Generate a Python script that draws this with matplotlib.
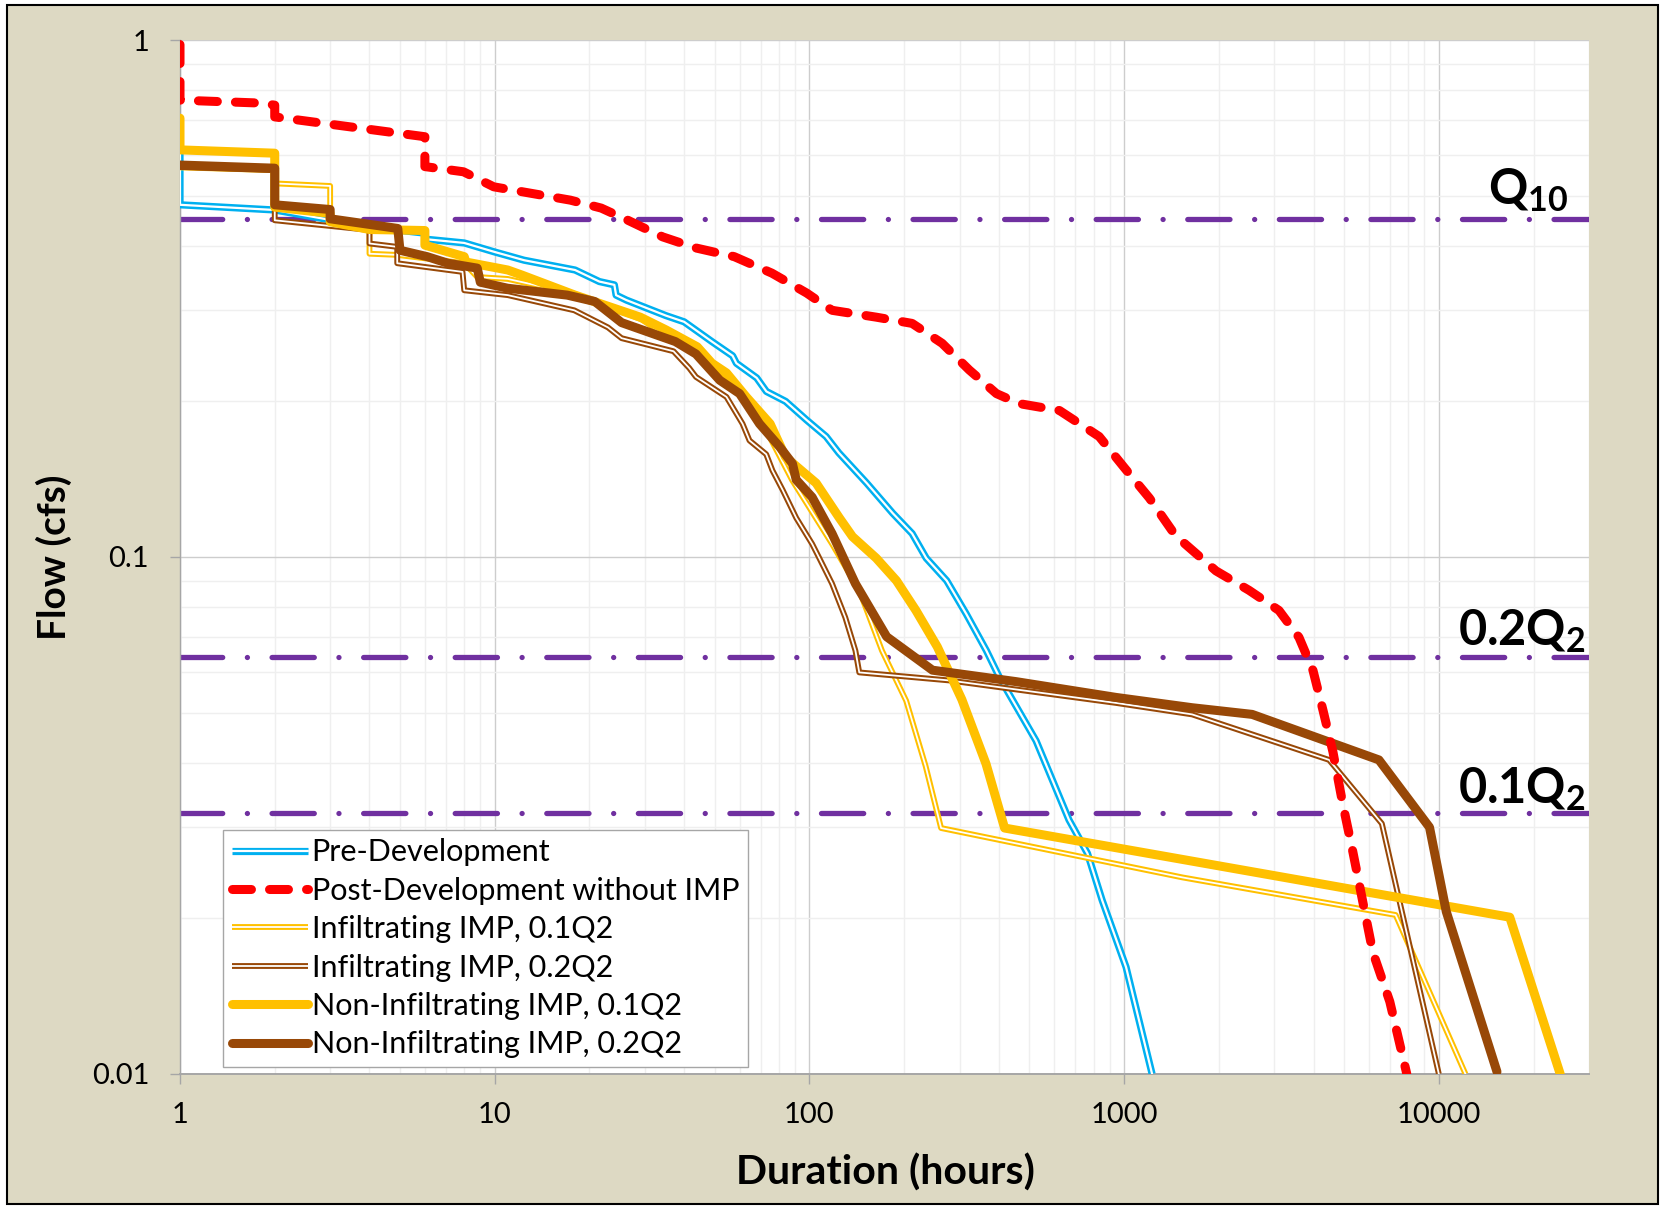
import matplotlib
matplotlib.use("Agg")
import matplotlib.pyplot as plt
import matplotlib.patheffects as pe
from matplotlib.patches import Rectangle
from matplotlib.ticker import FixedLocator, LogLocator, NullFormatter

plt.rcParams['font.family'] = ['Lato', 'DejaVu Sans']
plt.rcParams['mathtext.fontset'] = 'custom'
plt.rcParams['mathtext.rm'] = 'Lato'
plt.rcParams['mathtext.bf'] = 'Lato:bold'

# flow duration data (hours, cfs)
pre_hours = [1, 1, 2, 4, 6, 6, 8, 10, 12.4, 18, 21.5, 24, 24.3, 26.2, 35, 40, 49, 57,
             58.6, 68, 73, 84, 98, 113, 124, 152, 184, 212, 235, 273, 315, 365, 401,
             525, 668, 765, 851, 1014, 1227]
pre_flow = [0.655, 0.48, 0.469, 0.435, 0.423, 0.412, 0.405, 0.389, 0.375, 0.359, 0.341,
            0.336, 0.321, 0.314, 0.293, 0.285, 0.261, 0.245, 0.237, 0.222, 0.209, 0.200,
            0.184, 0.171, 0.159, 0.139, 0.1215, 0.111, 0.0995, 0.090, 0.0776, 0.0659,
            0.0586, 0.0441, 0.031, 0.0267, 0.0217, 0.0161, 0.0100]

post_hours = [1, 1, 1.81, 2, 2, 6, 6, 7.96, 9.93, 13.1, 17.4, 21.8, 26.5, 34.2, 43.6,
              57.7, 76, 98, 118, 163, 212, 264, 322, 393, 464, 623, 833, 1000, 1203,
              1456, 1958, 2494, 3105, 3594, 3983, 4285, 4607, 4955, 5330, 5735, 6170,
              6985, 7910]
post_flow = [0.98, 0.765, 0.755, 0.748, 0.71, 0.650, 0.569, 0.556, 0.520, 0.505, 0.490,
             0.473, 0.448, 0.416, 0.396, 0.381, 0.354, 0.324, 0.300, 0.291, 0.283, 0.259,
             0.230, 0.207, 0.198, 0.192, 0.171, 0.149, 0.130, 0.110, 0.094, 0.0862,
             0.0788, 0.0699, 0.0603, 0.0505, 0.042, 0.0332, 0.0269, 0.0215, 0.0172,
             0.0138, 0.0100]

inf1_hours = [1, 2, 2, 3, 3, 4, 4, 4.9, 8, 8.8, 11, 17.9, 29.3, 35, 44, 50, 55, 62, 75,
              88, 98, 118, 144, 170, 203, 234, 262, 1530, 7290, 12150]
inf1_flow = [0.567, 0.560, 0.528, 0.522, 0.445, 0.432, 0.386, 0.384, 0.370, 0.348, 0.345,
             0.323, 0.288, 0.268, 0.250, 0.233, 0.222, 0.200, 0.170, 0.141, 0.127, 0.106,
             0.0862, 0.0659, 0.0527, 0.0394, 0.0299, 0.0240, 0.0203, 0.0100]

inf2_hours = [1, 2, 2, 4, 4, 4.9, 4.9, 7.9, 8, 11, 17.9, 22.9, 25.3, 37, 41.5, 43.6, 54.5,
              61.3, 64.5, 72.9, 76.3, 82.1, 90.8, 102, 107.5, 118, 130, 140, 144, 278,
              942, 1644, 4480, 6590, 10000]
inf2_flow = [0.568, 0.560, 0.448, 0.429, 0.404, 0.398, 0.370, 0.356, 0.328, 0.321, 0.300,
             0.278, 0.265, 0.250, 0.232, 0.223, 0.204, 0.181, 0.168, 0.158, 0.147, 0.135,
             0.119, 0.106, 0.0995, 0.0888, 0.0764, 0.0659, 0.0598, 0.0577, 0.0522,
             0.0496, 0.0405, 0.0305, 0.0100]

noninf1_hours = [1, 1, 2, 2, 3, 3, 4, 6, 6, 8, 8.1, 11, 12.2, 18, 29, 35, 44, 49, 54.5,
                 63, 75, 84, 105, 124.5, 137, 163, 189, 218, 255, 305, 364, 417, 16800,
                 24300]
noninf1_flow = [0.706, 0.613, 0.604, 0.475, 0.462, 0.445, 0.430, 0.428, 0.401, 0.381,
                0.372, 0.359, 0.351, 0.321, 0.291, 0.275, 0.255, 0.237, 0.227, 0.204,
                0.181, 0.156, 0.139, 0.119, 0.1095, 0.0995, 0.090, 0.0788, 0.0670, 0.053,
                0.0398, 0.0299, 0.0201, 0.0100]

noninf2_hours = [1, 2, 2, 3, 3, 4.92, 5, 6.1, 7.1, 8.8, 9, 11, 17, 20.8, 25.3, 37.5, 43.6,
                 51.9, 60, 69.4, 80.3, 88.3, 90.8, 102, 118, 140, 176, 246, 453, 942,
                 1644, 2552, 6450, 9340, 10560, 15300]
noninf2_flow = [0.573, 0.565, 0.480, 0.470, 0.451, 0.432, 0.392, 0.381, 0.370, 0.362,
                0.340, 0.331, 0.321, 0.312, 0.284, 0.261, 0.247, 0.2197, 0.207, 0.181,
                0.1635, 0.1516, 0.141, 0.1305, 0.111, 0.0888, 0.0701, 0.0604, 0.0574,
                0.0535, 0.0511, 0.0496, 0.0405, 0.0300, 0.0206, 0.0101]

# threshold flows
q10 = 0.45
q2_20 = 0.064
q2_10 = 0.032

fig = plt.figure(figsize=(16.63, 12.06), dpi=100, facecolor='white')
fig.patches.append(Rectangle((0.0042, 0.0017), 0.9928, 0.9942, transform=fig.transFigure,
                             facecolor='#DDD9C3', edgecolor='black', linewidth=1.5,
                             zorder=-5))
ax = fig.add_axes([0.10824, 0.1095, 0.84726, 0.85733])
ax.set_zorder(1)
ax.set_facecolor('white')
ax.set_xscale('log')
ax.set_yscale('log')
ax.set_xlim(1, 30000)
ax.set_ylim(0.01, 1)

# thresholds
dd = [8, 4.67, 0.01, 4.67]
for q in (q10, q2_20, q2_10):
    ax.axhline(q, color='#7030A0', lw=3.8, dashes=dd, dash_capstyle='round', zorder=2)


def double_line(x, y, color, outer, inner, label, z):
    ax.plot(x, y, color='white', lw=inner, label=label, zorder=z,
            solid_joinstyle='round', solid_capstyle='round',
            path_effects=[pe.Stroke(linewidth=outer, foreground=color,
                                    joinstyle='round', capstyle='butt'), pe.Normal()])


double_line(pre_hours, pre_flow, '#00B0F0', 5.2, 1.6, 'Pre-Development', 3)
ax.plot(post_hours, post_flow, color='#FF0000', lw=6.5, dashes=(2.1, 2.0),
        dash_capstyle='round', dash_joinstyle='round',
        label='Post-Development without IMP', zorder=9)
double_line(inf1_hours, inf1_flow, '#FFC000', 4.2, 1.3, 'Infiltrating IMP, 0.1Q2', 4)
double_line(inf2_hours, inf2_flow, '#984807', 4.2, 1.3, 'Infiltrating IMP, 0.2Q2', 5)
ax.plot(noninf1_hours, noninf1_flow, color='#FFC000', lw=6.5, solid_joinstyle='round',
        solid_capstyle='round', label='Non-Infiltrating IMP, 0.1Q2', zorder=6)
ax.plot(noninf2_hours, noninf2_flow, color='#984807', lw=6.5, solid_joinstyle='round',
        solid_capstyle='round', label='Non-Infiltrating IMP, 0.2Q2', zorder=7)

# ticks and grid
ax.xaxis.set_major_locator(FixedLocator([1, 10, 100, 1000, 10000]))
ax.set_xticklabels(['1', '10', '100', '1000', '10000'])
ax.yaxis.set_major_locator(FixedLocator([0.01, 0.1, 1]))
ax.set_yticklabels(['0.01', '0.1', '1'])
ax.xaxis.set_minor_locator(LogLocator(base=10, subs=range(2, 10), numticks=20))
ax.yaxis.set_minor_locator(LogLocator(base=10, subs=range(2, 10), numticks=20))
ax.xaxis.set_minor_formatter(NullFormatter())
ax.yaxis.set_minor_formatter(NullFormatter())
ax.tick_params(which='major', direction='out', length=7.2, width=1, color='#A6A6A6',
               labelsize=21, labelcolor='black')
ax.tick_params(axis='x', which='major', pad=13)
ax.tick_params(axis='y', which='major', pad=15)
ax.tick_params(which='minor', length=0)
ax.grid(True, which='major', color='#CDCDCD', lw=1.0, zorder=0)
ax.grid(True, which='minor', color='#EFEFEF', lw=1.0, zorder=0)
ax.set_axisbelow(True)
for s in ('top', 'right'):
    ax.spines[s].set_visible(False)
ax.spines['left'].set_color('#A6A6A6')
ax.spines['left'].set_linewidth(1.0)
ax.spines['bottom'].set_color('#A6A6A6')
ax.spines['bottom'].set_linewidth(1.4)

ax.set_xlabel('Duration (hours)', fontsize=29.5, fontweight='bold')
ax.set_ylabel('Flow (cfs)', fontsize=28, fontweight='bold')
ax.xaxis.set_label_coords(0.501, -0.0958)
ax.yaxis.set_label_coords(-0.0894, 0.5)
ax.xaxis.label.set_va('center')
ax.yaxis.label.set_va('center')

# threshold labels
ax.text(0.985, 0.841, r'$\mathbf{Q_{10}}$', transform=ax.transAxes, ha='right',
        va='baseline', fontsize=35, zorder=10)
ax.text(0.998, 0.415, r'$\mathbf{0.2Q_{2}}$', transform=ax.transAxes, ha='right',
        va='baseline', fontsize=35, zorder=10)
ax.text(0.998, 0.262, r'$\mathbf{0.1Q_{2}}$', transform=ax.transAxes, ha='right',
        va='baseline', fontsize=35, zorder=10)

leg = ax.legend(loc='lower left', bbox_to_anchor=(0.0305, 0.0068), borderaxespad=0,
                fontsize=22, frameon=True, fancybox=False, framealpha=1,
                edgecolor='#A6A6A6', handlelength=2.5, handletextpad=0.12,
                labelspacing=0.34, borderpad=0.28)
leg.get_frame().set_linewidth(1.0)
leg.set_zorder(11)

fig.savefig('out.png', dpi=100, facecolor='white')
